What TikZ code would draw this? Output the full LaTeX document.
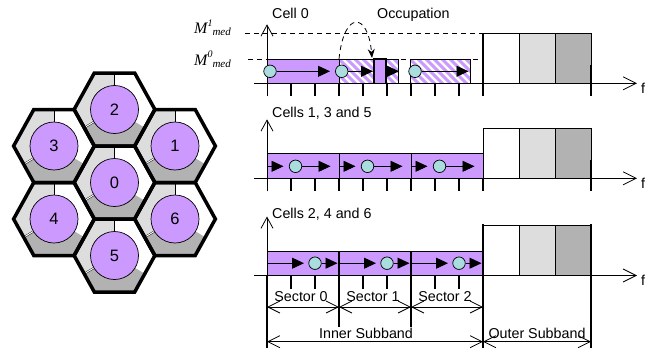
\documentclass[tikz,border=0pt]{standalone}
\usepackage{fontspec}
\setmainfont{Liberation Sans}
\newfontfamily\timesf{Liberation Serif}
\usetikzlibrary{arrows.meta}
\definecolor{purp}{RGB}{204,153,255}
\definecolor{lgray}{RGB}{221,221,221}
\definecolor{dgray}{RGB}{178,178,178}
\definecolor{cyanc}{RGB}{170,221,221}
\newcommand\hatchbox[4]{%
  \begin{scope}
    \clip (#1,#3) rectangle (#2,#4);
    \fill[white] (#1,#3) rectangle (#2,#4);
    \foreach \k in {-32,-24,...,72} \draw[purp, line width=3pt] ({#1+\k},#3) -- ++(30,30);
  \end{scope}
  \draw[line width=0.7pt] (#1,#3) rectangle (#2,#4);}
\begin{document}
\begin{tikzpicture}[x=1pt,y=-1pt,
  lbl/.style={font=\fontsize{14.3}{15}\selectfont, inner sep=0pt},
  barbox/.style={draw=black, line width=0.7pt, fill=purp},
  outbox/.style={draw=black, line width=0.7pt},
  tickline/.style={line width=1.3pt},
  thickline/.style={line width=1.5pt},
  axisline/.style={line width=0.8pt, -{Straight Barb[length=13pt,width=13pt,line width=0.8pt]}},
  yaxis/.style={line width=0.8pt, -{Straight Barb[length=11pt,width=12pt,line width=0.8pt]}},
  dimarrow/.style={line width=0.8pt, {Straight Barb[length=12pt,width=12pt,line width=0.8pt]}-{Straight Barb[length=12pt,width=12pt,line width=0.8pt]}},
  flow/.style={line width=0.9pt, -{Triangle[length=12pt,width=11pt]}},
  dot/.style={circle, draw=black, line width=0.7pt, fill=cyanc, minimum size=12.5pt, inner sep=0pt},
  cellc/.style={circle, draw=black, line width=0.7pt, fill=purp, minimum size=48pt, inner sep=0pt, font=\fontsize{16.5}{16.5}\selectfont},
  hexline/.style={line width=3.5pt, line join=miter},
  medlabel/.style={anchor=base west, inner sep=0pt, font=\timesf\itshape\fontsize{16}{16}\selectfont},
]
\useasboundingbox (0,0) rectangle (655,353);
\def\Rx{40.4}
\def\Hh{36.5}
% ---------- hexagonal cells ----------
\foreach \n/\cx/\cy in {0/114.5/182.5, 1/175/146, 2/114.5/109.5, 3/54/146, 4/54/219, 5/114.5/255.5, 6/175/219} {
  \fill[lgray] (\cx,\cy) -- (\cx,{\cy-\Hh}) -- ({\cx-\Rx/2},{\cy-\Hh}) -- ({\cx-\Rx},\cy) -- ({\cx-0.75*\Rx},{\cy+\Hh/2}) -- cycle;
  \fill[dgray] (\cx,\cy) -- ({\cx-0.75*\Rx},{\cy+\Hh/2}) -- ({\cx-\Rx/2},{\cy+\Hh}) -- ({\cx+\Rx/2},{\cy+\Hh}) -- ({\cx+0.75*\Rx},{\cy+\Hh/2}) -- cycle;
  \draw[line width=0.8pt] (\cx,\cy) -- (\cx,{\cy-\Hh});
  \draw[double, line width=0.4pt, double distance=1pt] (\cx,\cy) -- ({\cx-0.75*\Rx},{\cy+\Hh/2});
  \node[cellc] (cell\n) at (\cx,\cy) {\n};
}
\foreach \cx/\cy in {114.5/182.5, 175/146, 114.5/109.5, 54/146, 54/219, 114.5/255.5, 175/219} {
  \draw[hexline] ({\cx-\Rx},\cy) -- ({\cx-\Rx/2},{\cy-\Hh}) -- ({\cx+\Rx/2},{\cy-\Hh}) -- ({\cx+\Rx},\cy) -- ({\cx+\Rx/2},{\cy+\Hh}) -- ({\cx-\Rx/2},{\cy+\Hh}) -- cycle;
}
% ---------- chart 1 dashed levels ----------
\draw[dashed, dash pattern=on 5pt off 4pt, line width=0.8pt] (245,33.3) -- (483,33.3);
\draw[dashed, dash pattern=on 5pt off 4pt, line width=0.8pt] (248,59) -- (483,59);
\node[medlabel] (m1) at (194,33.3) {M\raisebox{7pt}{\fontsize{10}{10}\selectfont 1}\raisebox{-2pt}{\fontsize{11}{11}\selectfont med}};
\node[medlabel] (m0) at (194,65) {M\raisebox{7pt}{\fontsize{10}{10}\selectfont 0}\raisebox{-2pt}{\fontsize{11}{11}\selectfont med}};
% ---------- common chart parts ----------
\foreach \A/\lb/\nm/\lab in {83.3/18.5/a/{Cell 0}, 178.3/117.7/b/{Cells 1, 3 and 5}, 275.5/218/c/{Cells 2, 4 and 6}} {
  \draw[outbox, fill=white] (483,{\A-50}) rectangle (519,\A);
  \draw[outbox, fill=lgray] (519,{\A-50}) rectangle (555,\A);
  \draw[outbox, fill=dgray] (555,{\A-50}) rectangle (591,\A);
  \coordinate (fend\nm) at (637,\A);
  \draw[axisline] (254,\A) -- (fend\nm);
  \node[lbl, anchor=west] (f\nm) at (641,{\A+5}) {f};
  \coordinate (ytop\nm) at (267,{\A-59});
  \draw[yaxis] (267,{\A+13}) -- (ytop\nm);
  \node[lbl, anchor=base west] (lab\nm) at (272,\lb) {\lab};
  \foreach \t in {1,...,8} \draw[tickline] ({267+24*\t},\A) -- ({267+24*\t},{\A+13});
  \draw[thickline] (483,{\A-18}) -- (483,{\A+13});
  \draw[thickline] (591,{\A-18}) -- (591,{\A+13});
}
% ---------- chart 1 (cell 0) ----------
\draw[barbox] (267,59) rectangle (339,83.3);
\hatchbox{339}{374}{59}{83.3}
\draw[barbox, line width=1.2pt] (374,59) rectangle (386,83.3);
\hatchbox{386}{398}{59}{83.3}
\hatchbox{410}{470}{59}{83.3}
\draw[thickline] (483,33.3) -- (483,96.3);
\node[dot] (a1) at (270,71.3) {};
\draw[flow] (a1.east) -- (330,71.3);
\node[dot] (a2) at (341.7,71.3) {};
\draw[flow] (a2.east) -- (373,71.3);
\coordinate (a3s) at (386,71.3);
\draw[flow] (a3s) -- (399,71.3);
\node[dot] (a4) at (415,71.3) {};
\draw[flow] (a4.east) -- (468.5,71.3);
\coordinate (occs) at (339,59);
\coordinate (occe) at (372,58);
\draw[dashed, dash pattern=on 5pt off 4pt, line width=0.8pt, -{Stealth[length=9pt,width=7pt]}] (occs) .. controls (344,10) and (368,12) .. (occe);
\node[lbl, anchor=base west] (occ) at (377,19) {Occupation};
% ---------- chart 2 (cells 1,3,5) ----------
\foreach \s in {0,1,2} {
  \draw[barbox] ({267+72*\s},153.8) rectangle ({339+72*\s},178.3);
  \coordinate (bs\s) at ({267+72*\s},166.3);
  \draw[flow] (bs\s) -- ({283.5+72*\s},166.3);
  \node[dot] (b\s) at ({295.5+72*\s},166.3) {};
  \draw[flow] (b\s.east) -- ({330.5+72*\s},166.3);
}
% ---------- chart 3 (cells 2,4,6) ----------
\foreach \s in {0,1,2} {
  \draw[barbox] ({267+72*\s},251) rectangle ({339+72*\s},275.5);
  \coordinate (cs\s) at ({267+72*\s},263.2);
  \draw[flow] (cs\s) -- ({304+72*\s},263.2);
  \node[dot] (c\s) at ({315+72*\s},263.2) {};
  \draw[flow] (c\s.east) -- ({337.5+72*\s},263.2);
}
\draw[thickline] (267,275.5) -- (267,348);
\draw[thickline] (483,224) -- (483,348);
\draw[thickline] (591,224) -- (591,348);
\draw[thickline] (339,251) -- (339,327);
\draw[thickline] (411,251) -- (411,327);
\coordinate (d0) at (267,307);
\coordinate (d1) at (339,307);
\coordinate (d2) at (411,307);
\coordinate (d3) at (483,307);
\draw[dimarrow] (d0) -- (d1);
\draw[dimarrow] (d1) -- (d2);
\draw[dimarrow] (d2) -- (d3);
\node[lbl, anchor=base] (sec0) at (301,301.7) {Sector 0};
\node[lbl, anchor=base] (sec1) at (373,301.7) {Sector 1};
\node[lbl, anchor=base] (sec2) at (445,301.7) {Sector 2};
\coordinate (e0) at (267,341.7);
\coordinate (e1) at (483,341.7);
\coordinate (e2) at (591,341.7);
\draw[dimarrow] (e0) -- (e1);
\draw[dimarrow] (e1) -- (e2);
\node[lbl, anchor=base] (inner) at (366,338) {Inner Subband};
\node[lbl, anchor=base] (outer) at (537,338) {Outer Subband};
\end{tikzpicture}
\end{document}
